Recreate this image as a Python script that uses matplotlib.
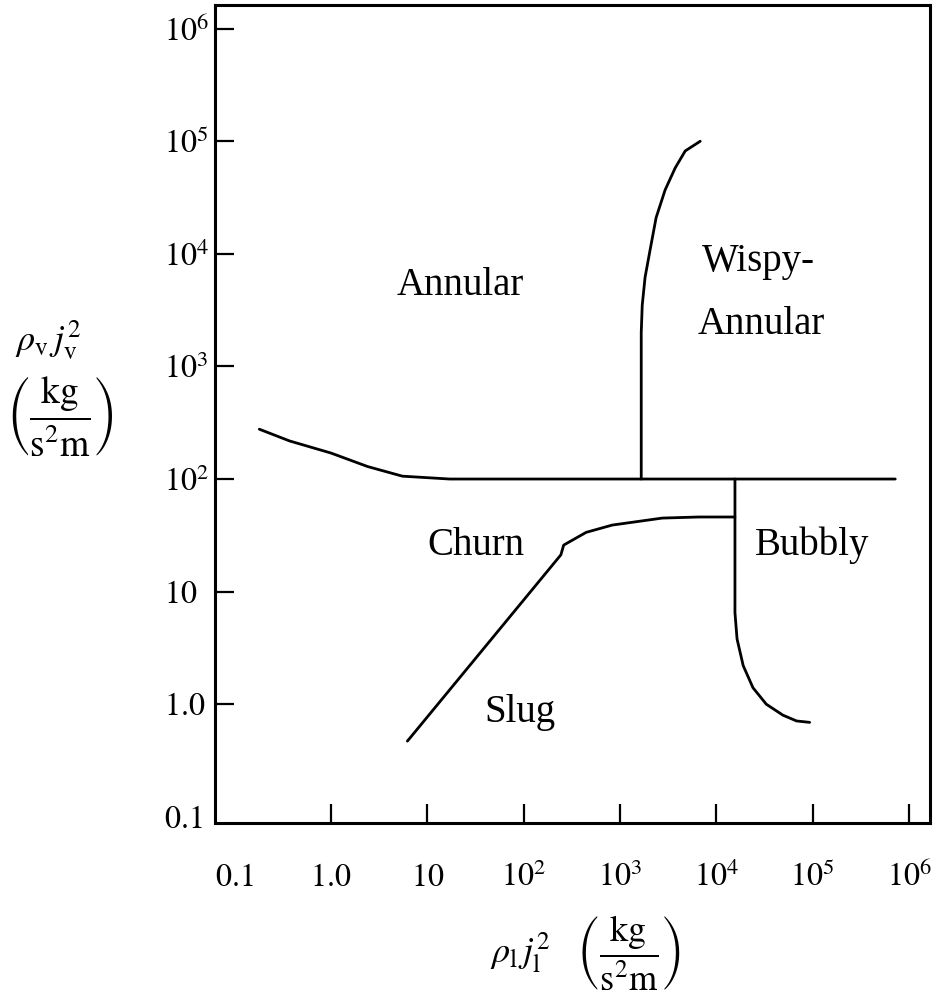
import matplotlib
matplotlib.use('Agg')
import matplotlib.pyplot as plt

plt.rcParams['font.family'] = ['Liberation Serif', 'DejaVu Serif']
plt.rcParams['mathtext.fontset'] = 'stix'

# Flow regime boundaries (x = rho_l j_l^2, y = rho_v j_v^2)
annular_x = [0.18, 0.37, 1.0, 2.4, 5.5, 17, 7.2e5]
annular_y = [277, 218, 170, 129, 106, 100, 100]

wispy_x = [1660, 1660, 1700, 1820, 2050, 2370, 2940, 3740, 4750, 6800]
wispy_y = [100, 2000, 3500, 6200, 1.08e4, 2.1e4, 3.7e4, 5.8e4, 8.2e4, 1e5]

churn_x = [6.2, 243, 260, 445, 830, 2750, 6600, 1.56e4]
churn_y = [0.47, 21.2, 25.9, 33.6, 39, 45, 46, 46]

bubbly_x = [1.56e4, 1.56e4, 1.64e4, 1.9e4, 2.4e4, 3.3e4, 4.9e4, 6.8e4, 9.3e4]
bubbly_y = [100, 6.5, 3.8, 2.2, 1.4, 1.0, 0.80, 0.71, 0.69]

tick_vals = [0.1, 1, 10, 1e2, 1e3, 1e4, 1e5, 1e6]
tick_labels = ['$0.1$', '$1.0$', '$10$', '$10^{2}$', '$10^{3}$', '$10^{4}$', '$10^{5}$', '$10^{6}$']

# region names and where they sit
regions = ['Annular', 'Wispy-', 'Annular', 'Churn', 'Bubbly', 'Slug']
region_x = [22, 2.7e4, 2.9e4, 32, 9.8e4, 91]
region_y = [4300, 7000, 1950, 21, 21, 0.69]

fig = plt.figure(figsize=(9.46, 10.05), dpi=100)
ax = fig.add_axes([215 / 946, 1 - 823 / 1005, 715 / 946, 818 / 1005])
ax.set_xscale('log')
ax.set_yscale('log')
ax.set_xlim(10 ** -1.205, 10 ** 6.218)
ax.set_ylim(10 ** -1.055, 10 ** 6.21)

for xs, ys in [(annular_x, annular_y), (wispy_x, wispy_y), (churn_x, churn_y), (bubbly_x, bubbly_y)]:
    ax.plot(xs, ys, color='black', lw=2.0, solid_capstyle='round', solid_joinstyle='round')

for name, rx, ry in zip(regions, region_x, region_y):
    ax.text(rx, ry, name, ha='center', va='baseline', fontsize=28)

ax.set_xticks(tick_vals)
ax.set_xticklabels(tick_labels)
ax.set_yticks(tick_vals)
ax.set_yticklabels(tick_labels)
ax.minorticks_off()
ax.tick_params(direction='in', length=14, width=1.6, labelsize=23, top=False, right=False)
ax.tick_params(axis='x', pad=45)
ax.tick_params(axis='y', pad=37)
for lab in ax.get_xticklabels():
    lab.set_verticalalignment('baseline')
for lab in ax.get_yticklabels():
    lab.set_horizontalalignment('left')
ax.xaxis.get_major_ticks()[0].tick1line.set_visible(False)
ax.yaxis.get_major_ticks()[0].tick1line.set_visible(False)

for sp in ax.spines.values():
    sp.set_linewidth(2.2)

frac = r'\left(\dfrac{\mathrm{kg}}{\mathrm{s}^{2}\mathrm{m}}\right)'
fig.text(15 / 946, 1 - 340 / 1005, r'$\rho_{\mathrm{v}}\,j_{\mathrm{v}}^{2}$', ha='left', va='center', fontsize=26)
fig.text(60 / 946, 1 - 416 / 1005, '$' + frac + '$', ha='center', va='center', fontsize=27)
fig.text(585 / 946, 1 - 953 / 1005, r'$\rho_{\mathrm{l}}\,j_{\mathrm{l}}^{2}\quad' + frac + '$',
         ha='center', va='center', fontsize=26)

fig.savefig('out.png', dpi=100)
